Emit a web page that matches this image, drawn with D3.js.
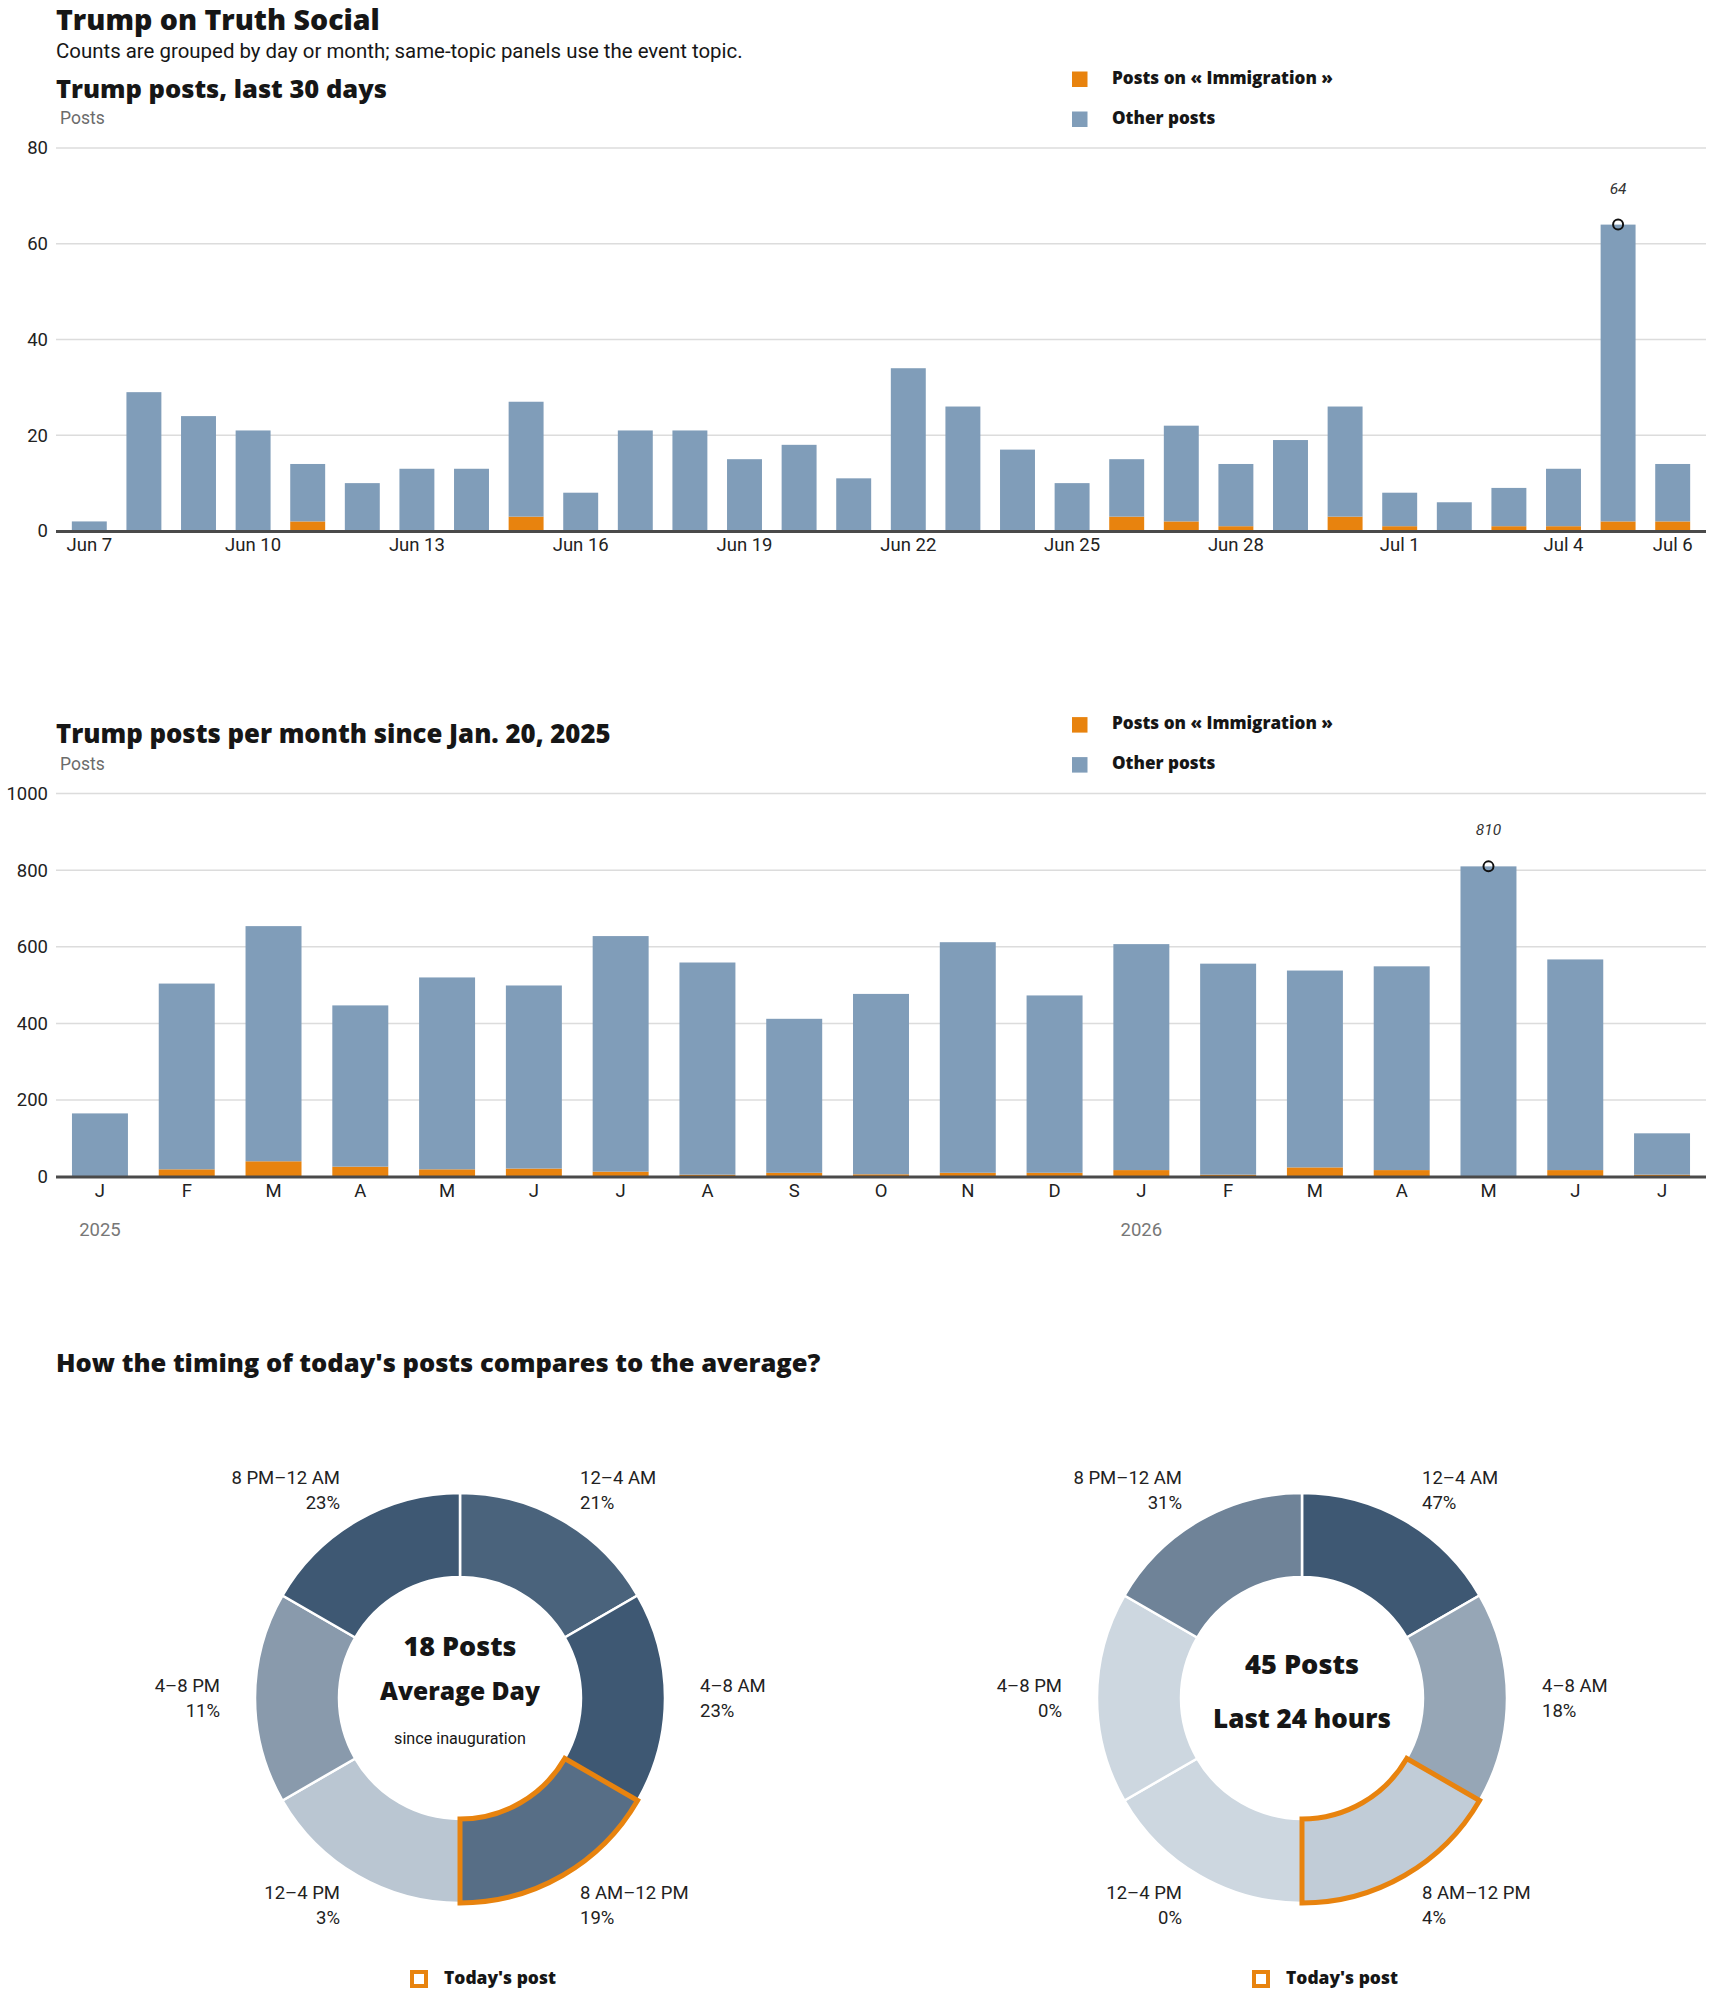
<!DOCTYPE html>
<html>
<head>
<meta charset="utf-8">
<script src="https://cdn.jsdelivr.net/npm/d3@7"></script>
<style>
  html, body { margin: 0; padding: 0; background: #fff; }
  svg { display: block; font-family: Roboto, "Liberation Sans", sans-serif; }
  .heavy { font-family: "Open Sans", Roboto, sans-serif; font-weight: 800; }
</style>
</head>
<body>
<svg id="chart" width="1710" height="1993"></svg>
<script>
// ---------- DATA ----------
const dayLabels = ["Jun 7","Jun 8","Jun 9","Jun 10","Jun 11","Jun 12","Jun 13","Jun 14","Jun 15","Jun 16",
  "Jun 17","Jun 18","Jun 19","Jun 20","Jun 21","Jun 22","Jun 23","Jun 24","Jun 25","Jun 26",
  "Jun 27","Jun 28","Jun 29","Jun 30","Jul 1","Jul 2","Jul 3","Jul 4","Jul 5","Jul 6"];
const dayTotals = [2,29,24,21,14,10,13,13,27,8,21,21,15,18,11,34,26,17,10,15,22,14,19,26,8,6,9,13,64,14];
const dayImmigration = [0,0,0,0,2,0,0,0,3,0,0,0,0,0,0,0,0,0,0,3,2,1,0,3,1,0,1,1,2,2];
const dayTicks = ["Jun 7","Jun 10","Jun 13","Jun 16","Jun 19","Jun 22","Jun 25","Jun 28","Jul 1","Jul 4","Jul 6"];
const dayYTicks = [0,20,40,60,80];

const monthKeys = ["2025-01","2025-02","2025-03","2025-04","2025-05","2025-06","2025-07","2025-08","2025-09",
  "2025-10","2025-11","2025-12","2026-01","2026-02","2026-03","2026-04","2026-05","2026-06","2026-07"];
const monthLetters = ["J","F","M","A","M","J","J","A","S","O","N","D","J","F","M","A","M","J","J"];
const monthTotals = [165,504,654,447,520,499,628,559,412,477,612,473,607,556,538,549,810,567,113];
const monthImmigration = [0,19,40,26,19,21,13,5,10,6,10,10,17,5,24,17,0,17,5];
const monthYTicks = [0,200,400,600,800,1000];
const yearLabels = [{key:"2025-01", label:"2025"},{key:"2026-01", label:"2026"}];

const slots = ["12–4 AM","4–8 AM","8 AM–12 PM","12–4 PM","4–8 PM","8 PM–12 AM"];
const averagePct = [21,23,19,3,11,23];
const todayPct = [47,18,4,0,0,31];
const highlightSlot = "8 AM–12 PM";

const legendLabels = ["Posts on « Immigration »","Other posts"];

// ---------- STYLE ----------
const C = {
  orange: "#e8830e",
  blue: "#809db9",
  grid: "#dcdcdc",
  axis: "#4a4a4a",
  text: "#161616",
  muted: "#6b6b6b",
  light: "#cdd7e0",
  dark: "#3e5873"
};
const FONT = 'Roboto, "Liberation Sans", sans-serif';

const svg = d3.select("#chart");

// scale a text's font-size so its rendered width matches a target width; returns the size
function fit(sel, target) {
  const s0 = +sel.attr("font-size");
  const w = sel.node().getComputedTextLength();
  const s = w > 0 ? s0 * target / w : s0;
  sel.attr("font-size", s);
  return s;
}

// Header
fit(svg.append("text").attr("class","heavy").attr("x",56).attr("y",29.5).attr("font-size",28)
  .attr("fill",C.text).text("Trump on Truth Social"), 324);
fit(svg.append("text").attr("x",56).attr("y",57.5).attr("font-size",20)
  .attr("fill",C.text).text("Counts are grouped by day or month; same-topic panels use the event topic."), 687);

function barPanel(opts) {
  const g = svg.append("g").attr("transform", `translate(0,${opts.dy})`);
  const y0 = 531, yTop = 148;
  const y = d3.scaleLinear().domain([0, opts.yMax]).range([y0, yTop]);
  const x = d3.scaleBand().domain(opts.keys).range([56, 1706])
    .paddingInner(opts.padIn).paddingOuter(opts.padOut);

  // title
  fit(g.append("text").attr("class","heavy").attr("x",56).attr("y",97.5).attr("font-size",25)
    .attr("fill",C.text).text(opts.title), opts.titleWidth);
  g.append("text").attr("x",60).attr("y",124).attr("font-size",17.5).attr("fill",C.muted).text("Posts");

  // legend
  const leg = g.append("g");
  let legSize = 17;
  [C.orange, C.blue].forEach((col, i) => {
    leg.append("rect").attr("x",1072).attr("y",71.5 + i*40).attr("width",15.5).attr("height",15.5).attr("fill",col);
    const t = leg.append("text").attr("class","heavy").attr("x",1112).attr("y",83.5 + i*40).attr("font-size",legSize)
      .attr("fill",C.text).text(legendLabels[i]);
    if (i === 0) legSize = fit(t, 221);
  });

  // grid
  g.append("g").selectAll("line").data(opts.yTicks.filter(d => d > 0)).join("line")
    .attr("x1",56).attr("x2",1706).attr("y1",d => y(d)).attr("y2",d => y(d))
    .attr("stroke",C.grid).attr("stroke-width",1.5);

  // y axis
  const ya = g.append("g").attr("transform","translate(56,0)")
    .call(d3.axisLeft(y).tickValues(opts.yTicks).tickSize(0).tickPadding(8).tickFormat(d3.format("d")));
  ya.select(".domain").remove();
  ya.selectAll("text").attr("font-size",18.5).attr("font-family",FONT).attr("fill","#222");

  // bars
  const rows = opts.keys.map((k,i) => ({key:k, immigration: opts.imm[i], other: opts.totals[i]-opts.imm[i], total: opts.totals[i]}));
  const stack = d3.stack().keys(["immigration","other"])(rows);
  const colors = {immigration: C.orange, other: C.blue};
  g.append("g").selectAll("g").data(stack).join("g").attr("fill", s => colors[s.key])
    .selectAll("rect").data(s => s).join("rect")
    .attr("x", d => x(d.data.key)).attr("width", x.bandwidth())
    .attr("y", d => y(d[1])).attr("height", d => y(d[0]) - y(d[1]));

  // baseline
  g.append("line").attr("x1",56).attr("x2",1706).attr("y1",y0+0.5).attr("y2",y0+0.5)
    .attr("stroke",C.axis).attr("stroke-width",3);

  // x axis
  const xa = g.append("g").attr("transform",`translate(0,${y0})`)
    .call(d3.axisBottom(x).tickValues(opts.tickValues).tickSize(0).tickPadding(7).tickFormat(opts.tickFormat));
  xa.select(".domain").remove();
  xa.selectAll("text").attr("font-size",18.5).attr("font-family",FONT).attr("fill","#222");

  // peak annotation
  const peak = rows.reduce((a,b) => b.total > a.total ? b : a);
  const px = x(peak.key) + x.bandwidth()/2;
  g.append("circle").attr("cx",px).attr("cy",y(peak.total)).attr("r",5)
    .attr("fill","none").attr("stroke","#111").attr("stroke-width",2);
  g.append("text").attr("x",px).attr("y",y(peak.total)-31).attr("text-anchor","middle")
    .attr("font-size",15.5).attr("font-style","italic").attr("fill","#333").text(peak.total);

  return {g, x, y0};
}

barPanel({
  dy: 0, title: "Trump posts, last 30 days", titleWidth: 331, keys: dayLabels, totals: dayTotals, imm: dayImmigration,
  yMax: 80, yTicks: dayYTicks, padIn: 0.36, padOut: 0.29, tickValues: dayTicks, tickFormat: d => d
});

const p2 = barPanel({
  dy: 645.6, title: "Trump posts per month since Jan. 20, 2025", titleWidth: 555, keys: monthKeys, totals: monthTotals, imm: monthImmigration,
  yMax: 1000, yTicks: monthYTicks, padIn: 0.355, padOut: 0.184, tickValues: monthKeys,
  tickFormat: d => monthLetters[monthKeys.indexOf(d)]
});
p2.g.append("g").selectAll("text").data(yearLabels).join("text")
  .attr("x", d => p2.x(d.key) + p2.x.bandwidth()/2).attr("y", 590)
  .attr("text-anchor","middle").attr("font-size",18.5).attr("fill","#777").text(d => d.label);

// ---------- DONUTS ----------
fit(svg.append("text").attr("class","heavy").attr("x",56).attr("y",1372).attr("font-size",25)
  .attr("fill",C.text).text("How the timing of today's posts compares to the average?"), 765);

function donut(cx, cy, pcts, centerLines) {
  const g = svg.append("g").attr("transform",`translate(${cx},${cy})`);
  const data = slots.map((s,i) => ({slot:s, pct:pcts[i]}));
  const color = d3.scaleLinear().domain([0, d3.max(pcts)]).range([C.light, C.dark]).interpolate(d3.interpolateRgb);
  const pie = d3.pie().value(() => 1).sort(null);
  const arcs = pie(data);
  const arc = d3.arc().innerRadius(121).outerRadius(205);
  const labelArc = d3.arc().innerRadius(240).outerRadius(240);

  g.selectAll("path.seg").data(arcs).join("path").attr("class","seg")
    .attr("d", arc).attr("fill", d => color(d.data.pct)).attr("stroke","#fff").attr("stroke-width",2.5);

  g.selectAll("path.hl").data(arcs.filter(d => d.data.slot === highlightSlot)).join("path").attr("class","hl")
    .attr("d", arc).attr("fill","none").attr("stroke",C.orange).attr("stroke-width",5).attr("stroke-linejoin","miter");

  const lab = g.selectAll("g.lab").data(arcs).join("g").attr("class","lab")
    .attr("transform", d => `translate(${labelArc.centroid(d)})`);
  lab.append("text").attr("y",-12.5).attr("dominant-baseline","central")
    .attr("text-anchor", d => labelArc.centroid(d)[0] >= 0 ? "start" : "end")
    .attr("font-size",18.5).attr("fill","#222").text(d => d.data.slot);
  lab.append("text").attr("y",12.5).attr("dominant-baseline","central")
    .attr("text-anchor", d => labelArc.centroid(d)[0] >= 0 ? "start" : "end")
    .attr("font-size",18.5).attr("fill","#222").text(d => d.data.pct + "%");

  centerLines.forEach(l => {
    const t = g.append("text").attr("x",0).attr("y",l.y).attr("dominant-baseline","central").attr("text-anchor","middle")
      .attr("font-size",l.size).attr("fill",C.text).text(l.text);
    if (l.bold) t.attr("class","heavy");
    if (l.width) fit(t, l.width);
  });

  // legend
  g.append("rect").attr("x",-48).attr("y",274).attr("width",14).attr("height",14)
    .attr("fill","#fff").attr("stroke",C.orange).attr("stroke-width",4);
  fit(g.append("text").attr("class","heavy").attr("x",-16).attr("y",279).attr("dominant-baseline","central")
    .attr("font-size",17).attr("fill",C.text).text("Today's post"), 112);
}

donut(460, 1698, averagePct, [
  {text:"18 Posts", y:-53, size:25, bold:true, width:113},
  {text:"Average Day", y:-7.5, size:25, bold:true, width:160},
  {text:"since inauguration", y:40.5, size:15.5, bold:false, width:132}
]);
donut(1302, 1698, todayPct, [
  {text:"45 Posts", y:-34.5, size:25, bold:true, width:114},
  {text:"Last 24 hours", y:19.5, size:25, bold:true, width:178}
]);
</script>
</body>
</html>
